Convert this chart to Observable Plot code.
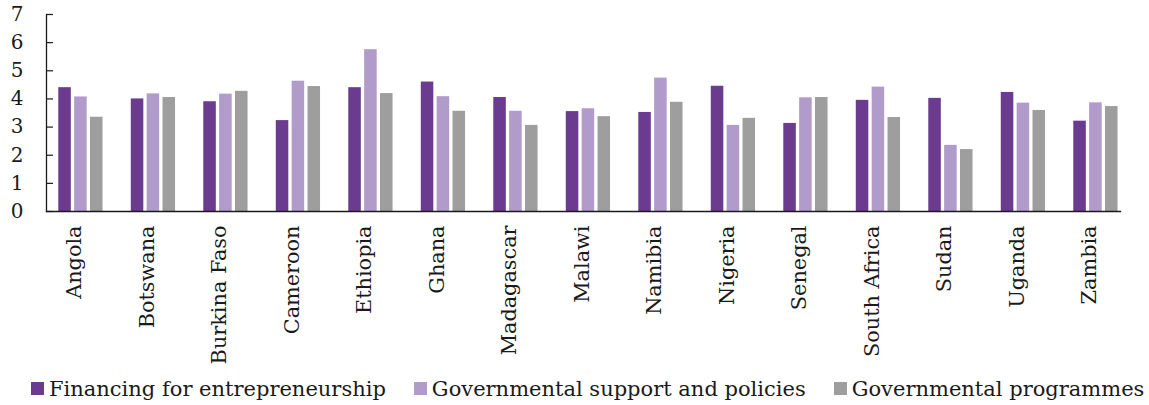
<!DOCTYPE html>
<html>
<head>
<meta charset="utf-8">
<script src="https://cdn.jsdelivr.net/npm/d3@7"></script>
<script src="https://cdn.jsdelivr.net/npm/@observablehq/plot@0.6"></script>
<style>
  html, body { margin: 0; padding: 0; background: #fff; }
  body { width: 1149px; height: 405px; overflow: hidden; font-family: "DejaVu Serif", serif; color: #1a1a1a; }
  #legend { display: flex; justify-content: flex-start; align-items: center; gap: 28px; height: 33px; padding-left: 31px; font-size: 21px; line-height: 26px; white-space: nowrap; }
  #legend .item { display: flex; align-items: center; gap: 5px; }
  #legend .sw { width: 13px; height: 13px; display: inline-block; }
</style>
</head>
<body>
<div id="chart"></div>
<div id="legend"></div>
<script>
const countries = ["Angola","Botswana","Burkina Faso","Cameroon","Ethiopia","Ghana","Madagascar","Malawi","Namibia","Nigeria","Senegal","South Africa","Sudan","Uganda","Zambia"];
const series = ["Financing for entrepreneurship","Governmental support and policies","Governmental programmes"];
const financing  = [4.40, 4.00, 3.90, 3.23, 4.40, 4.60, 4.05, 3.55, 3.52, 4.45, 3.13, 3.95, 4.02, 4.23, 3.21];
const support    = [4.07, 4.18, 4.17, 4.63, 5.75, 4.08, 3.56, 3.65, 4.74, 3.06, 4.04, 4.42, 2.35, 3.85, 3.86];
const programmes = [3.35, 4.05, 4.27, 4.44, 4.19, 3.56, 3.06, 3.37, 3.88, 3.31, 4.05, 3.34, 2.20, 3.59, 3.73];
const yTicks = [0, 1, 2, 3, 4, 5, 6, 7];
const colors = ["#6b3b8f", "#b09bca", "#9e9e9e"];

const valuesBySeries = [financing, support, programmes];
const data = [];
countries.forEach((c, i) => {
  series.forEach((s, j) => data.push({country: c, series: s, value: valuesBySeries[j][i]}));
});

const ink = "#1a1a1a";
const chart = Plot.plot({
  width: 1149,
  height: 372,
  marginLeft: 46,
  marginRight: 15.5,
  marginTop: 14,
  marginBottom: 161,
  style: {fontFamily: "'DejaVu Serif', serif", fontSize: "20px", color: ink, background: "white", overflow: "visible"},
  fx: {domain: countries, paddingInner: 0, paddingOuter: 0, round: false, label: null},
  x: {domain: series, paddingInner: 0.21, paddingOuter: 0.89, align: 0.435, round: false, axis: null},
  y: {domain: [0, 7], label: null},
  color: {domain: series, range: colors},
  marks: [
    Plot.barY(data, {fx: "country", x: "series", y: "value", fill: "series"}),
    Plot.axisY({ticks: yTicks, tickFormat: "d", tickSize: 0, tickPadding: 23, label: null, fontSize: 20}),
    Plot.axisY({ticks: yTicks, tickSize: -7, text: null, label: null, stroke: ink, strokeWidth: 1.2, strokeOpacity: 1}),
    Plot.axisFx({anchor: "bottom", tickRotate: -90, tickSize: 0, tickPadding: 14, label: null, dx: -8, fontSize: 20.8}),
    Plot.frame({anchor: "left", facet: "super", stroke: ink, strokeWidth: 1.3}),
    Plot.frame({anchor: "bottom", facet: "super", insetRight: 13.5, stroke: ink, strokeWidth: 1.3})
  ]
});
document.getElementById("chart").appendChild(chart);

const legend = document.getElementById("legend");
series.forEach((s, j) => {
  const item = document.createElement("div");
  item.className = "item";
  const sw = document.createElement("span");
  sw.className = "sw";
  sw.style.background = colors[j];
  const t = document.createElement("span");
  t.textContent = s;
  item.appendChild(sw);
  item.appendChild(t);
  legend.appendChild(item);
});
</script>
</body>
</html>
